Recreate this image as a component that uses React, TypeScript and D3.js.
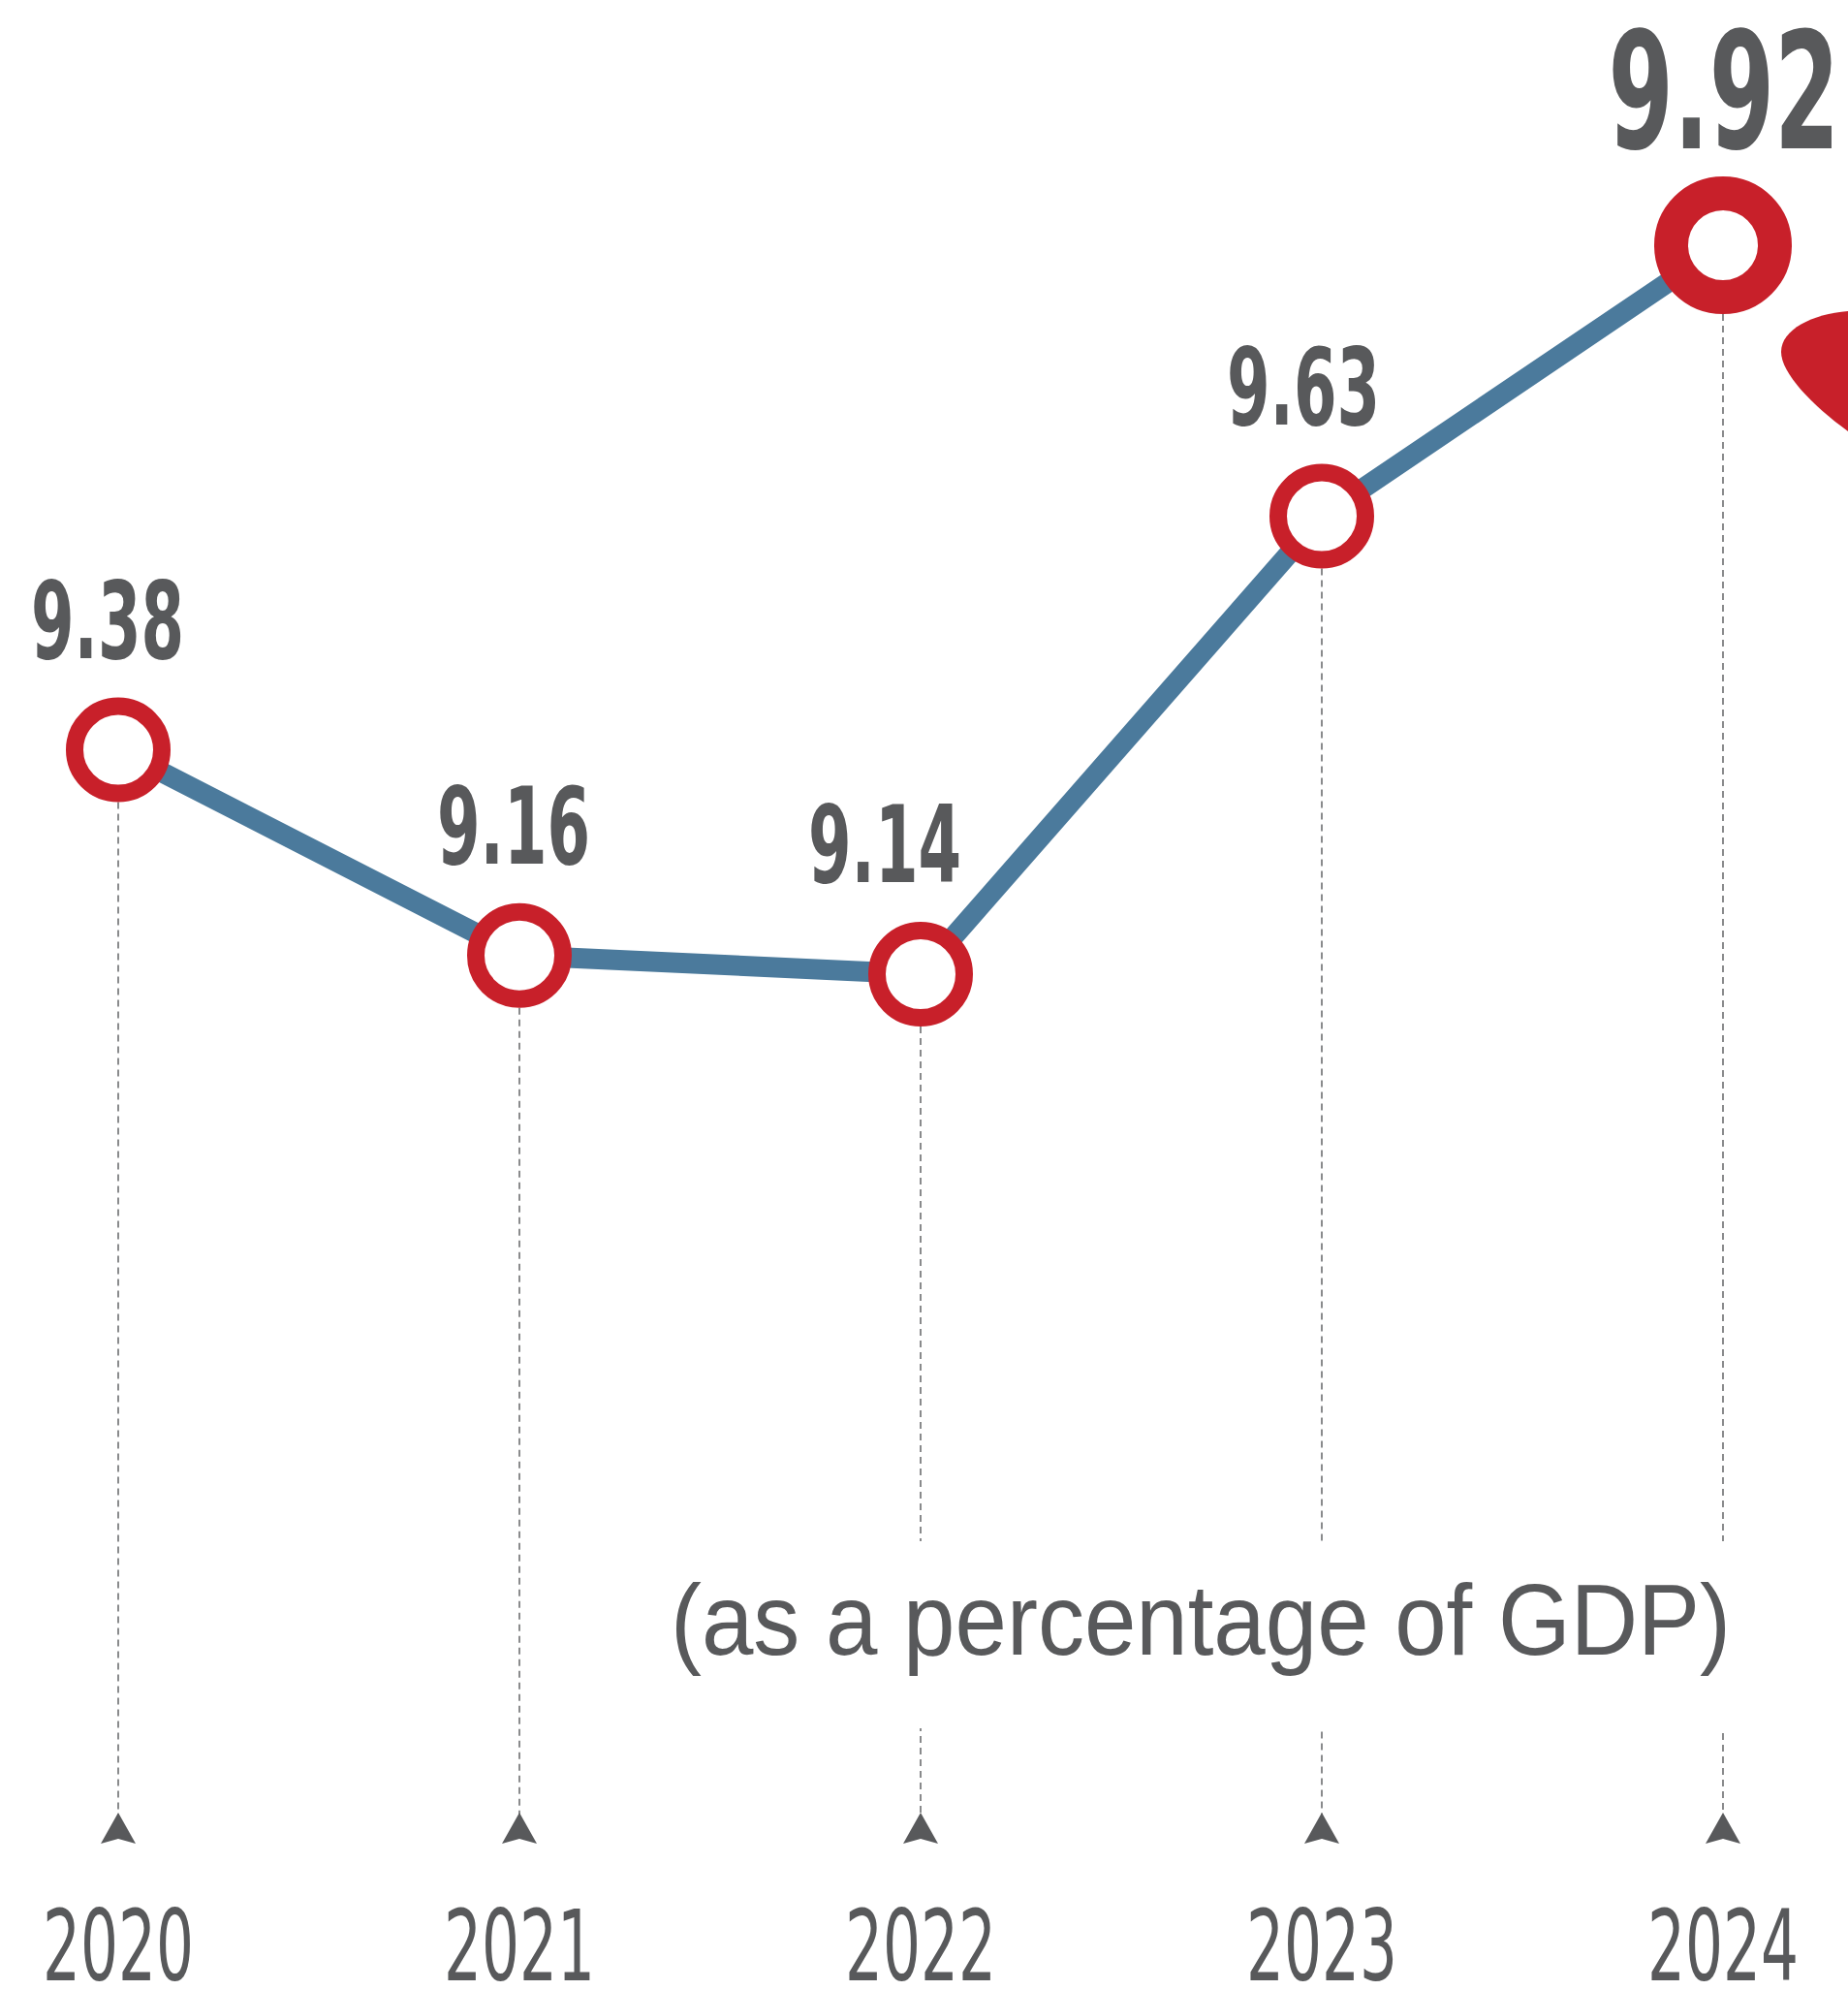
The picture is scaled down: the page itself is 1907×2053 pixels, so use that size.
import React from "react";
import * as d3 from "d3";

const years = ["2020", "2021", "2022", "2023", "2024"];
const values = [9.38, 9.16, 9.14, 9.63, 9.92];
const valueLabels = ["9.38", "9.16", "9.14", "9.63", "9.92"];
const subtitle = "(as a percentage of GDP)";

// layout constants
const W = 1907;
const H = 2053;
const labelDx = [-11, -6, -37, -19, 1];
const GRAY = "#58595b";
const RED = "#c8202a";
const BLUE = "#4b7a9c";
const COND = "'Liberation Sans Narrow', 'DejaVu Sans Condensed', Roboto, sans-serif";

export default function App() {
  const x = d3.scalePoint<string>().domain(years).range([122, 1778]);
  const y = d3.scaleLinear().domain([9.14, 9.92]).range([1005, 253]);
  const pts = values.map((v, i) => ({ v, year: years[i], x: x(years[i]) as number, y: y(v), i }));
  const line = d3
    .line<{ x: number; y: number }>()
    .x((d) => d.x)
    .y((d) => d.y);
  const last = pts.length - 1;
  const arrowTip = 1870;
  const arrowPath = "M0,0 L18,32 L0,27 L-18,32 Z";

  return (
    <svg
      width={W}
      height={H}
      viewBox={`0 0 ${W} ${H}`}
      style={{ position: "absolute", left: 0, top: 0, display: "block", background: "#fff" }}
    >
      <rect x={0} y={0} width={W} height={H} fill="#fff" />
      {/* dashed guide lines */}
      {pts.map((p) => (
        <line
          key={"d" + p.i}
          x1={p.x}
          x2={p.x}
          y1={p.y + (p.i === last ? 71 : 54)}
          y2={arrowTip + 2}
          stroke="#6d6e70"
          strokeWidth={1.6}
          strokeDasharray="7 5"
        />
      ))}
      {/* arrowheads */}
      {pts.map((p) => (
        <path key={"a" + p.i} d={arrowPath} transform={`translate(${p.x},${arrowTip})`} fill={GRAY} />
      ))}
      {/* subtitle with white backing */}
      <rect x={688} y={1590} width={1105} height={193} fill="#fff" />
      <text
        x={1239}
        y={1707}
        textAnchor="middle"
        fontFamily="'Liberation Sans', Arial, sans-serif"
        fontSize={103}
        fill={GRAY}
        textLength={1094}
        lengthAdjust="spacingAndGlyphs"
      >
        {subtitle}
      </text>
      {/* line */}
      <path d={line(pts) || ""} fill="none" stroke={BLUE} strokeWidth={21} strokeLinejoin="round" />
      {/* markers */}
      {pts.map((p) =>
        p.i === last ? (
          <circle key={"c" + p.i} cx={p.x} cy={p.y} r={53.5} fill="#fff" stroke={RED} strokeWidth={35} />
        ) : (
          <circle key={"c" + p.i} cx={p.x} cy={p.y} r={45} fill="#fff" stroke={RED} strokeWidth={18} />
        )
      )}
      {/* value labels */}
      {pts.map((p) =>
        p.i === last ? (
          <text
            key={"l" + p.i}
            x={p.x + labelDx[p.i]}
            y={p.y - 100}
            textAnchor="middle"
            fontFamily={COND}
            fontWeight={700}
            fontSize={168}
            fill={GRAY}
            textLength={239}
            lengthAdjust="spacingAndGlyphs"
          >
            {valueLabels[p.i]}
          </text>
        ) : (
          <text
            key={"l" + p.i}
            x={p.x + labelDx[p.i]}
            y={p.y - 95}
            textAnchor="middle"
            fontFamily={COND}
            fontWeight={700}
            fontSize={110}
            fill={GRAY}
            textLength={158}
            lengthAdjust="spacingAndGlyphs"
          >
            {valueLabels[p.i]}
          </text>
        )
      )}
      {/* year labels */}
      {pts.map((p) => (
        <text
          key={"y" + p.i}
          x={p.x}
          y={2043}
          textAnchor="middle"
          fontFamily={COND}
          fontSize={102}
          fill={GRAY}
          textLength={156}
          lengthAdjust="spacingAndGlyphs"
        >
          {p.year}
        </text>
      ))}
      {/* red decorative shape at right edge */}
      <path
        d="M1907,321 C1870,324 1838,340 1838,363 C1838,385 1870,418 1907,445 Z"
        fill={RED}
      />
    </svg>
  );
}
